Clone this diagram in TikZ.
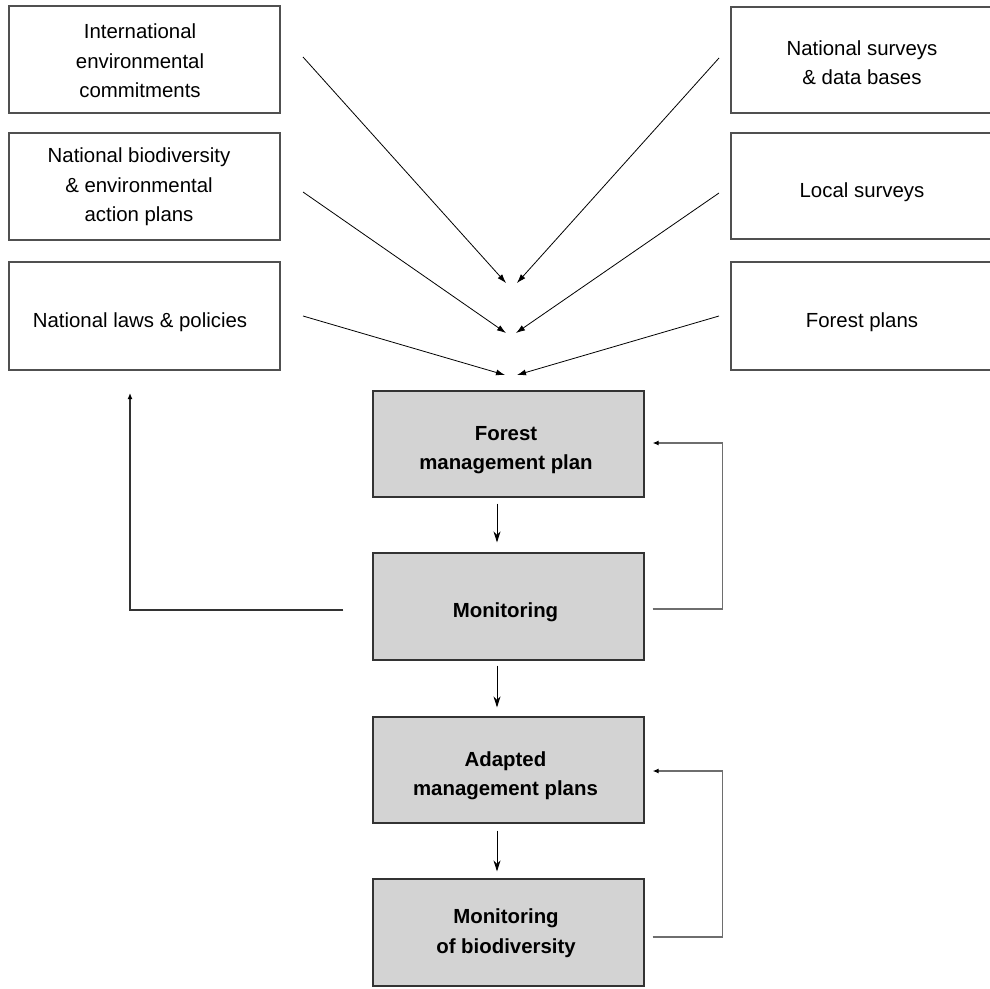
\documentclass[tikz,border=0pt]{standalone}
\usepackage{fontspec}
\setmainfont{Liberation Sans}
\usetikzlibrary{arrows.meta}
\newcommand{\tx}[3]{\hspace*{#1}\raisebox{#2}[\height][\depth]{\begin{tabular}{@{}c@{}}#3\end{tabular}}}
\definecolor{boxgray}{RGB}{211,211,211}
\definecolor{edgegray}{RGB}{80,80,80}
\definecolor{fbline}{RGB}{110,110,110}
\begin{document}
\begin{tikzpicture}[x=1pt,y=-1pt,
  every node/.style={font=\fontsize{20.4}{29.5}\selectfont},
  wbox/.style={draw=edgegray,line width=1.2pt,fill=white,minimum width=271pt,inner sep=0pt},
  rbox/.style={wbox,minimum width=262pt},
  gbox/.style={draw=black!80,line width=1.2pt,fill=boxgray,minimum width=271pt,inner sep=0pt,font=\fontsize{20.4}{29.5}\selectfont\bfseries},
  diag/.style={line width=0.8pt,-{Latex[length=9pt,width=6pt]}},
  down/.style={line width=0.9pt,-{Stealth[length=11pt,width=7pt]}},
  fb/.style={draw=fbline,line width=1.3pt,-{Latex[length=6pt,width=5pt,color=black]}}]
\clip (0,0) rectangle (990,988);
\fill[white] (0,0) rectangle (990,988);

% left column
\node[wbox,minimum height=107pt] (iec) at (144.5,59.5) {\tx{-9pt}{-3pt}{International\\environmental\\commitments}};
\node[wbox,minimum height=107pt] (nbd) at (144.5,186.5) {\tx{-11pt}{0pt}{National biodiversity\\\& environmental\\action plans}};
\node[wbox,minimum height=108pt] (nlp) at (144.5,316) {\tx{-9pt}{-6pt}{National laws \& policies}};

% right column
\node[rbox,minimum height=106pt] (nsd) at (862,60) {\tx{0pt}{-4pt}{National surveys\\\& data bases}};
\node[rbox,minimum height=106pt] (ls) at (862,186) {\tx{0pt}{-6pt}{Local surveys}};
\node[rbox,minimum height=108pt] (fp) at (862,316) {\tx{0pt}{-6pt}{Forest plans}};

% central column
\node[gbox,minimum height=106pt] (fmp) at (508.5,444) {\tx{-5pt}{-5pt}{Forest\\management plan}};
\node[gbox,minimum height=107pt] (mon) at (508.5,606.5) {\tx{-6pt}{-5.5pt}{Monitoring}};
\node[gbox,minimum height=106pt] (amp) at (508.5,770) {\tx{-6pt}{-5pt}{Adapted\\management plans}};
\node[gbox,minimum height=107pt] (mob) at (508.5,932.5) {\tx{-5pt}{0pt}{Monitoring\\of biodiversity}};

% converging arrows
\coordinate (a1s) at (303,57);  \coordinate (a1e) at (506,283);
\coordinate (b1s) at (719,58);  \coordinate (b1e) at (517,283);
\coordinate (a2s) at (303,192); \coordinate (a2e) at (506,333);
\coordinate (b2s) at (719,193); \coordinate (b2e) at (516,333);
\coordinate (a3s) at (303,316); \coordinate (a3e) at (505,375);
\coordinate (b3s) at (719,316); \coordinate (b3e) at (517,375);
\draw[diag] (a1s) -- (a1e);
\draw[diag] (b1s) -- (b1e);
\draw[diag] (a2s) -- (a2e);
\draw[diag] (b2s) -- (b2e);
\draw[diag] (a3s) -- (a3e);
\draw[diag] (b3s) -- (b3e);

% downward arrows
\draw[down] ([xshift=-11.5pt,yshift=-6pt]fmp.south) -- ([xshift=-11.5pt,yshift=10pt]mon.north);
\draw[down] ([xshift=-11.5pt,yshift=-5pt]mon.south) -- ([xshift=-11.5pt,yshift=9pt]amp.north);
\draw[down] ([xshift=-11.5pt,yshift=-7pt]amp.south) -- ([xshift=-11.5pt,yshift=7pt]mob.north);

% feedback loops
\coordinate (fbl) at (130,393);
\draw[fb,draw=black!80,line width=1.4pt] ([xshift=-29pt,yshift=-3.5pt]mon.west) -| (fbl);
\draw[fb] ([xshift=8pt,yshift=-2.5pt]mon.east) -- ++(70,0) |- ([xshift=8pt,yshift=1pt]fmp.east);
\draw[fb] ([xshift=8pt,yshift=-4.5pt]mob.east) -- ++(70,0) |- ([xshift=8pt,yshift=-1pt]amp.east);
\end{tikzpicture}
\end{document}
